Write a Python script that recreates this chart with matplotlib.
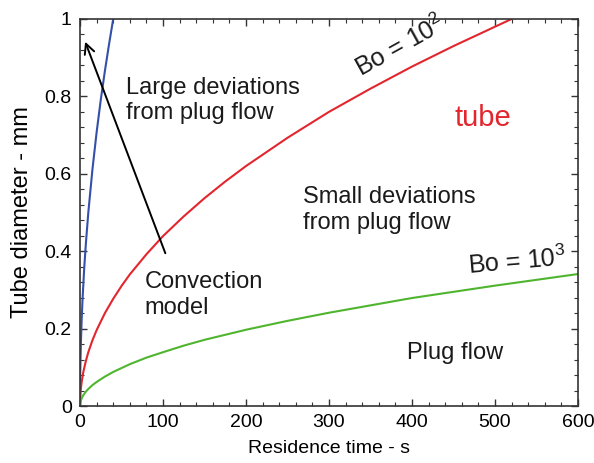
import matplotlib
matplotlib.use("Agg")
import matplotlib.pyplot as plt
from matplotlib.ticker import MultipleLocator

plt.rcParams["font.family"] = ["Liberation Sans", "DejaVu Sans"]
plt.rcParams["mathtext.fontset"] = "custom"
plt.rcParams["mathtext.rm"] = "Liberation Sans"
plt.rcParams["mathtext.it"] = "Liberation Sans:italic"
plt.rcParams["mathtext.bf"] = "Liberation Sans:bold"

# residence time (s) and tube diameter (mm)
t_conv = [0, 0.25, 0.5, 1, 2, 3, 5, 7, 10, 15, 20, 25, 30, 35, 40]
d_conv = [0, 0.079, 0.112, 0.158, 0.224, 0.274, 0.354, 0.418, 0.5, 0.612,
          0.707, 0.791, 0.866, 0.935, 1.0]

t_bo2 = [0, 0.5, 1, 2, 4, 7, 10, 15, 20, 30, 40, 50, 60, 80, 100, 125, 150,
         175, 200, 250, 300, 350, 400, 450, 520]
d_bo2 = [0, 0.031, 0.044, 0.062, 0.088, 0.116, 0.139, 0.170, 0.196, 0.240,
         0.277, 0.310, 0.340, 0.392, 0.439, 0.490, 0.537, 0.580, 0.620,
         0.693, 0.760, 0.820, 0.877, 0.930, 1.0]

t_bo3 = [0, 0.5, 1, 2, 4, 7, 10, 15, 20, 30, 40, 50, 60, 80, 100, 125, 150,
         200, 250, 300, 350, 400, 450, 500, 550, 600]
d_bo3 = [0, 0.010, 0.014, 0.020, 0.028, 0.037, 0.044, 0.054, 0.062, 0.076,
         0.088, 0.098, 0.108, 0.125, 0.139, 0.156, 0.171, 0.197, 0.220,
         0.241, 0.260, 0.279, 0.295, 0.311, 0.326, 0.341]

fig = plt.figure(figsize=(5.94, 4.63), dpi=100)
ax = fig.add_axes([0.1347, 0.1231, 0.8383, 0.8359])

ax.plot(t_conv, d_conv, color="#3450a8", lw=1.5)
ax.plot(t_bo2, d_bo2, color="#e3262e", lw=1.5)
ax.plot(t_bo3, d_bo3, color="#4fb52f", lw=1.5)

ax.set_xlim(0, 600)
ax.set_ylim(0, 1)
ax.xaxis.set_major_locator(MultipleLocator(100))
ax.xaxis.set_minor_locator(MultipleLocator(20))
ax.yaxis.set_minor_locator(MultipleLocator(0.04))
ax.set_yticks([0, 0.2, 0.4, 0.6, 0.8, 1.0])
ax.set_yticklabels(["0", "0.2", "0.4", "0.6", "0.8", "1"])

ax.tick_params(which="both", direction="in", top=True, right=True,
               color="#333333", labelsize=14, pad=6)
ax.tick_params(which="major", length=5, width=1)
ax.tick_params(which="minor", length=3, width=0.8)
for s in ax.spines.values():
    s.set_color("#333333")
    s.set_linewidth(1.2)

ax.set_xlabel("Residence time - s", fontsize=14, labelpad=6)
ax.set_ylabel("Tube diameter - mm", fontsize=17, labelpad=8)

ax.annotate("", xy=(5, 0.948), xytext=(104, 0.388),
            arrowprops=dict(arrowstyle="->", color="black", lw=1.4,
                            mutation_scale=18))

tk = dict(fontsize=17, color="#1a1a1a", linespacing=1.2)
ax.text(56, 0.79, "Large deviations\nfrom plug flow", ha="left", va="center", **tk)
ax.text(78, 0.287, "Convection\nmodel", ha="left", va="center", **tk)
ax.text(269, 0.506, "Small deviations\nfrom plug flow", ha="left", va="center", **tk)
ax.text(394, 0.137, "Plug flow", ha="left", va="center", **tk)
ax.text(451, 0.744, "tube", ha="left", va="center", fontsize=21, color="#e3262e")
ax.text(385, 0.93, r"Bo = 10$^{2}$", ha="center", va="center", rotation=29,
        fontsize=18, color="#1a1a1a")
ax.text(527, 0.374, r"Bo = 10$^{3}$", ha="center", va="center", rotation=5,
        fontsize=18, color="#1a1a1a")

fig.savefig("out.png", dpi=100)
